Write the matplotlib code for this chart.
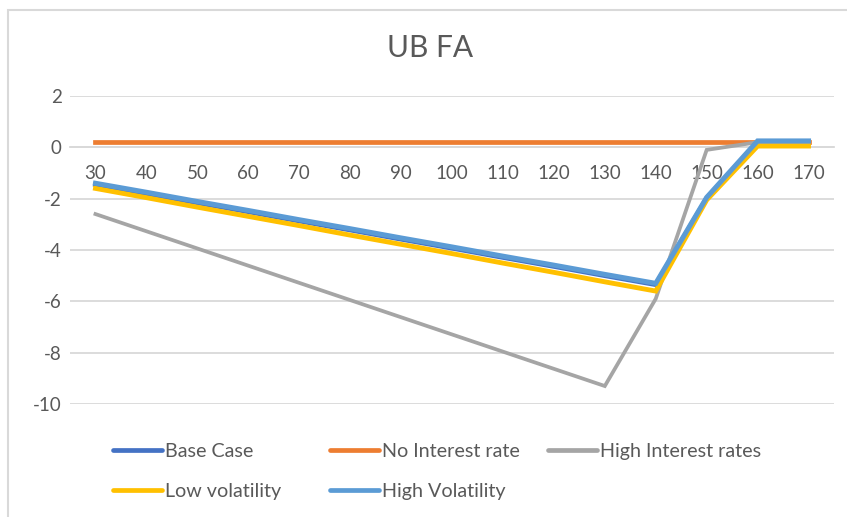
import matplotlib
matplotlib.use("Agg")
import matplotlib.pyplot as plt
from matplotlib.lines import Line2D
from matplotlib.patches import Rectangle

# spot values along the curve
spots = [30, 40, 50, 60, 70, 80, 90, 100, 110, 120, 130, 140, 150, 160, 170]

base_case = [-1.45, -1.8, -2.16, -2.51, -2.87, -3.22, -3.58, -3.93, -4.29, -4.64, -5.0, -5.35, -1.98, 0.2, 0.2]
no_interest = [0.2, 0.2, 0.2, 0.2, 0.2, 0.2, 0.2, 0.2, 0.2, 0.2, 0.2, 0.2, 0.2, 0.2, 0.2]
high_interest = [-2.6, -3.27, -3.94, -4.61, -5.28, -5.95, -6.62, -7.29, -7.96, -8.63, -9.3, -5.9, -0.1, 0.2, 0.2]
low_vol = [-1.6, -1.96, -2.33, -2.69, -3.05, -3.42, -3.78, -4.14, -4.51, -4.87, -5.24, -5.6, -2.05, 0.05, 0.05]
high_vol = [-1.4, -1.75, -2.11, -2.46, -2.82, -3.17, -3.53, -3.88, -4.24, -4.59, -4.95, -5.3, -1.95, 0.25, 0.25]

series = [
    ("Base Case", base_case, "#4472C4", 3.4),
    ("No Interest rate", no_interest, "#ED7D31", 3.4),
    ("High Interest rates", high_interest, "#A5A5A5", 2.7),
    ("Low volatility", low_vol, "#FFC000", 3.5),
    ("High Volatility", high_vol, "#5B9BD5", 3.6),
]

txt = "#595959"
grid = "#D9D9D9"
plt.rcParams["font.family"] = ["Lato", "DejaVu Sans"]
plt.rcParams["axes.unicode_minus"] = False

fig = plt.figure(figsize=(8.47, 5.17), dpi=100)
W, H = 847, 517
ax = fig.add_axes([70 / W, 1 - 404 / H, (834 - 70) / W, (404 - 96) / H])

xs = list(range(len(spots)))
handles = {}
for name, vals, col, lw in series:
    ax.plot(xs, vals, color=col, lw=lw, zorder=3, solid_joinstyle="miter")
    handles[name] = Line2D([], [], color=col, lw=3.4, solid_capstyle="round")

ax.set_xlim(-0.5, len(spots) - 0.5)
ax.set_ylim(-10, 2)
ax.set_yticks(range(-10, 3, 2))
ax.set_xticks(xs)
ax.set_xticklabels([str(s) for s in spots])
ax.set_axisbelow(True)
ax.yaxis.grid(True, color=grid, lw=1.3)

for s in ["top", "right", "left"]:
    ax.spines[s].set_visible(False)
ax.spines["bottom"].set_position(("data", 0))
ax.spines["bottom"].set_color(grid)
ax.spines["bottom"].set_linewidth(1.3)
ax.tick_params(axis="both", length=0, colors=txt, labelsize=13.5)
ax.tick_params(axis="x", pad=12.5)
ax.tick_params(axis="y", pad=6)

fig.text(0.508, 1 - 48 / H, "UB FA", ha="center", va="center",
         fontsize=21.5, color=txt)

# legend laid out in three columns, row-major
cols = [
    (113, ["Base Case", "Low volatility"]),
    (330, ["No Interest rate", "High Volatility"]),
    (548, ["High Interest rates"]),
]
for x0, names in cols:
    lg = fig.legend([handles[n] for n in names], names, loc="upper left",
                    bbox_to_anchor=(x0 / W, 1 - 443 / H), frameon=False,
                    fontsize=14.2, handlelength=2.5, handletextpad=0.15,
                    labelspacing=1.15, borderpad=0, borderaxespad=0)
    for t in lg.get_texts():
        t.set_color(txt)

fig.patches.append(Rectangle((8 / W, -0.1), 1.2, 1.1 - 10 / H, transform=fig.transFigure,
                             fill=False, edgecolor=grid, lw=1.5))

fig.savefig("out.png", dpi=100)
